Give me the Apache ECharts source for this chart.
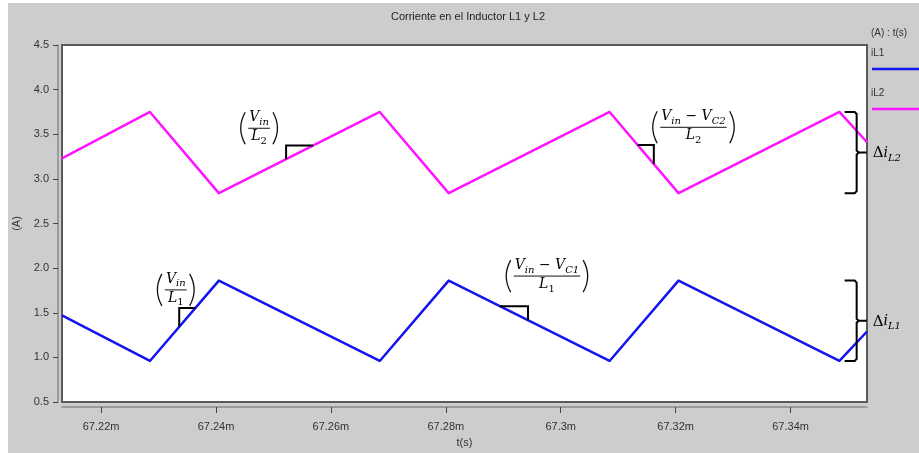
<!DOCTYPE html>
<html>
<head>
<meta charset="utf-8">
<script src="https://cdn.jsdelivr.net/npm/echarts@6/dist/echarts.min.js"></script>
<style>
  html, body { margin: 0; padding: 0; background: #ffffff; }
  #chart { width: 919px; height: 453px; }
</style>
</head>
<body>
<div id="chart"></div>
<script>
// Simulation time, in milliseconds (axis labels carry the "m" suffix)
const timeMs = [67.2132, 67.2285, 67.2405, 67.2685, 67.2805, 67.3085, 67.3205, 67.3485, 67.3533];
// Inductor currents (A)
const iL1 = [1.47, 0.96, 1.86, 0.96, 1.86, 0.96, 1.86, 0.96, 1.29];
const iL2 = [3.23, 3.75, 2.84, 3.75, 2.84, 3.75, 2.84, 3.75, 3.41];
// Axis ticks
const xTicks = [67.22, 67.24, 67.26, 67.28, 67.30, 67.32, 67.34];
const yTicks = [0.5, 1.0, 1.5, 2.0, 2.5, 3.0, 3.5, 4.0, 4.5];

const seriesNames = ['iL1', 'iL2'];
const seriesColors = ['#1414f0', '#ff14ff'];
const seriesValues = { iL1: iL1, iL2: iL2 };

// Slope markers: two instants on a ramp of the given current
const slopeMarks = [
  { name: 'iL1', t0: 67.2336, t1: 67.2364 },
  { name: 'iL2', t0: 67.2522, t1: 67.2569 },
  { name: 'iL1', t0: 67.2894, t1: 67.2943 },
  { name: 'iL2', t0: 67.3134, t1: 67.3162 }
];
// Slope formulas, anchored at (time, current)
const slopeLabels = [
  { t: 67.2330, v: 1.756, num: [['V', 'v'], ['in', 's']], den: [['L', 'v'], ['1', 'n']] },
  { t: 67.2475, v: 3.567, num: [['V', 'v'], ['in', 's']], den: [['L', 'v'], ['2', 'n']] },
  { t: 67.2976, v: 1.911, num: [['V', 'v'], ['in', 's'], [' \u2212 ', 'o'], ['V', 'v'], ['C1', 's']], den: [['L', 'v'], ['1', 'n']] },
  { t: 67.3231, v: 3.578, num: [['V', 'v'], ['in', 's'], [' \u2212 ', 'o'], ['V', 'v'], ['C2', 's']], den: [['L', 'v'], ['2', 'n']] }
];
// Ripple braces at the right edge
const rippleBraces = [
  { name: 'iL2', t: 67.3515, label: 'L2' },
  { name: 'iL1', t: 67.3515, label: 'L1' }
];

const sans = '"Liberation Sans", Arial, sans-serif';
const serif = '"DejaVu Serif", serif';

const option = {
  animation: false,
  backgroundColor: '#cdcdcd',
  grid: {
    left: 62, top: 45, right: 52, bottom: 48,
    show: true, backgroundColor: '#ffffff', borderColor: '#5a5a5a', borderWidth: 2
  },
  xAxis: {
    type: 'value',
    min: timeMs[0],
    max: timeMs[timeMs.length - 1],
    offset: 5,
    name: 't(s)',
    nameLocation: 'middle',
    nameGap: 30,
    nameTextStyle: { fontFamily: sans, fontSize: 11, color: '#333' },
    axisLine: { show: true, lineStyle: { color: '#8a8a8a', width: 1.5 } },
    axisTick: { show: true, length: 6, customValues: xTicks, lineStyle: { color: '#444' } },
    axisLabel: {
      customValues: xTicks, margin: 14, fontFamily: sans, fontSize: 11, color: '#333',
      formatter: v => parseFloat(v.toFixed(2)) + 'm'
    },
    splitLine: { show: false }
  },
  yAxis: {
    type: 'value',
    min: 0.5, max: 4.5, interval: 0.5,
    offset: 4,
    name: '(A)',
    nameLocation: 'middle',
    nameGap: 35,
    nameTextStyle: { fontFamily: sans, fontSize: 11, color: '#333' },
    axisLine: { show: true, lineStyle: { color: '#8a8a8a', width: 1.5 } },
    axisTick: { show: true, length: 5, lineStyle: { color: '#444' } },
    axisLabel: {
      margin: 9, fontFamily: sans, fontSize: 11, color: '#333',
      formatter: v => v.toFixed(1)
    },
    splitLine: { show: false }
  },
  series: seriesNames.map((n, k) => ({
    name: n,
    type: 'line',
    showSymbol: false,
    symbol: 'none',
    lineStyle: { color: seriesColors[k], width: 2.5, join: 'round' },
    data: timeMs.map((t, i) => [t, seriesValues[n][i]])
  }))
};

const chart = echarts.init(document.getElementById('chart'));
chart.setOption(option);

const px = (t, v) => chart.convertToPixel({ gridIndex: 0 }, [t, v]);
function valueAt(vals, t) {
  for (let i = 0; i < timeMs.length - 1; i++) {
    if (t >= timeMs[i] && t <= timeMs[i + 1]) {
      return vals[i] + (vals[i + 1] - vals[i]) * (t - timeMs[i]) / (timeMs[i + 1] - timeMs[i]);
    }
  }
  return vals[vals.length - 1];
}

// Math text styles
const mathRich = {
  v: { fontFamily: serif, fontStyle: 'italic', fontSize: 14, lineHeight: 17, verticalAlign: 'top', color: '#111' },
  s: { fontFamily: serif, fontStyle: 'italic', fontSize: 10, lineHeight: 14, verticalAlign: 'bottom', color: '#111' },
  n: { fontFamily: serif, fontSize: 10, lineHeight: 14, verticalAlign: 'bottom', color: '#111' },
  o: { fontFamily: serif, fontSize: 14, lineHeight: 17, verticalAlign: 'top', color: '#111' },
  d: { fontFamily: serif, fontSize: 15, lineHeight: 17, verticalAlign: 'top', color: '#111' }
};
const fontOf = {
  v: 'italic 14px ' + serif, s: 'italic 10px ' + serif, n: '10px ' + serif,
  o: '14px ' + serif, d: '15px ' + serif
};
const measureCtx = document.createElement('canvas').getContext('2d');
function widthOf(parts) {
  let w = 0;
  parts.forEach(p => { measureCtx.font = fontOf[p[1]]; w += measureCtx.measureText(p[0]).width; });
  return w;
}
const richText = parts => parts.map(p => '{' + p[1] + '|' + p[0] + '}').join('');

const elements = [
  // white margin strips of the window
  { type: 'rect', shape: { x: 0, y: 0, width: 8, height: 453 }, style: { fill: '#ffffff' }, z: 100 },
  { type: 'rect', shape: { x: 0, y: 0, width: 919, height: 3 }, style: { fill: '#ffffff' }, z: 100 },
  // title
  { type: 'text', x: 468, y: 17, style: { text: 'Corriente en el Inductor L1 y L2', fontFamily: sans, fontSize: 11, fill: '#222', align: 'center', verticalAlign: 'middle' }, z: 100 },
  // legend column
  { type: 'text', x: 871, y: 33, style: { text: '(A) : t(s)', fontFamily: sans, fontSize: 10, fill: '#333', align: 'left', verticalAlign: 'middle' }, z: 100 }
];
seriesNames.forEach((n, k) => {
  const y0 = 53 + k * 40;
  elements.push({ type: 'text', x: 871, y: y0, style: { text: n, fontFamily: sans, fontSize: 10, fill: '#333', align: 'left', verticalAlign: 'middle' }, z: 100 });
  elements.push({ type: 'line', shape: { x1: 872, y1: y0 + 16, x2: 919, y2: y0 + 16 }, style: { stroke: seriesColors[k], lineWidth: 2.5 }, z: 100 });
});

// slope right-angle markers
slopeMarks.forEach(m => {
  const vals = seriesValues[m.name];
  const v0 = valueAt(vals, m.t0), v1 = valueAt(vals, m.t1);
  const corner = v1 > v0 ? [m.t0, v1] : [m.t1, v0];
  elements.push({
    type: 'polyline',
    shape: { points: [px(m.t0, v0), px(corner[0], corner[1]), px(m.t1, v1)] },
    style: { stroke: '#000', lineWidth: 2, fill: null },
    z: 50
  });
});

// slope formulas as fractions in parentheses
slopeLabels.forEach(l => {
  const c = px(l.t, l.v);
  const cx = c[0], cy = c[1];
  const w = Math.max(widthOf(l.num), widthOf(l.den)) + 2;
  const xl = cx - w / 2 - 8, xr = cx + w / 2 + 8;
  elements.push({ type: 'text', x: cx, y: cy - 1, style: { text: richText(l.num), rich: mathRich, align: 'center', verticalAlign: 'bottom' }, z: 60 });
  elements.push({ type: 'text', x: cx, y: cy + 1, style: { text: richText(l.den), rich: mathRich, align: 'center', verticalAlign: 'top' }, z: 60 });
  elements.push({ type: 'line', shape: { x1: cx - w / 2, y1: cy, x2: cx + w / 2, y2: cy }, style: { stroke: '#111', lineWidth: 1 }, z: 60 });
  elements.push({ type: 'bezierCurve', shape: { x1: xl + 5, y1: cy - 16, x2: xl + 5, y2: cy + 16, cpx1: xl - 4, cpy1: cy }, style: { stroke: '#111', lineWidth: 1.3, fill: null }, z: 60 });
  elements.push({ type: 'bezierCurve', shape: { x1: xr - 5, y1: cy - 16, x2: xr - 5, y2: cy + 16, cpx1: xr + 4, cpy1: cy }, style: { stroke: '#111', lineWidth: 1.3, fill: null }, z: 60 });
});

// ripple braces with delta labels
rippleBraces.forEach(b => {
  const vals = seriesValues[b.name];
  const top = px(b.t, Math.max.apply(null, vals))[1];
  const bot = px(b.t, Math.min.apply(null, vals))[1];
  const xr = px(b.t, 1)[0];
  const xl = xr - 12, tip = xr + 10, mid = (top + bot) / 2;
  elements.push({
    type: 'polyline',
    shape: { points: [[xl, top], [xr - 2, top], [xr, top + 2], [xr, mid - 2], [xr + 2, mid], [tip, mid]] },
    style: { stroke: '#000', lineWidth: 2, fill: null },
    z: 110
  });
  elements.push({
    type: 'polyline',
    shape: { points: [[xr + 2, mid], [xr, mid + 2], [xr, bot - 2], [xr - 2, bot], [xl, bot]] },
    style: { stroke: '#000', lineWidth: 2, fill: null },
    z: 110
  });
  elements.push({
    type: 'text', x: tip + 6, y: mid + 2,
    style: { text: '{d|\u0394}{v|i}{s|' + b.label + '}', rich: mathRich, align: 'left', verticalAlign: 'middle' },
    z: 110
  });
});

chart.setOption({ graphic: { elements: elements } });
</script>
</body>
</html>
